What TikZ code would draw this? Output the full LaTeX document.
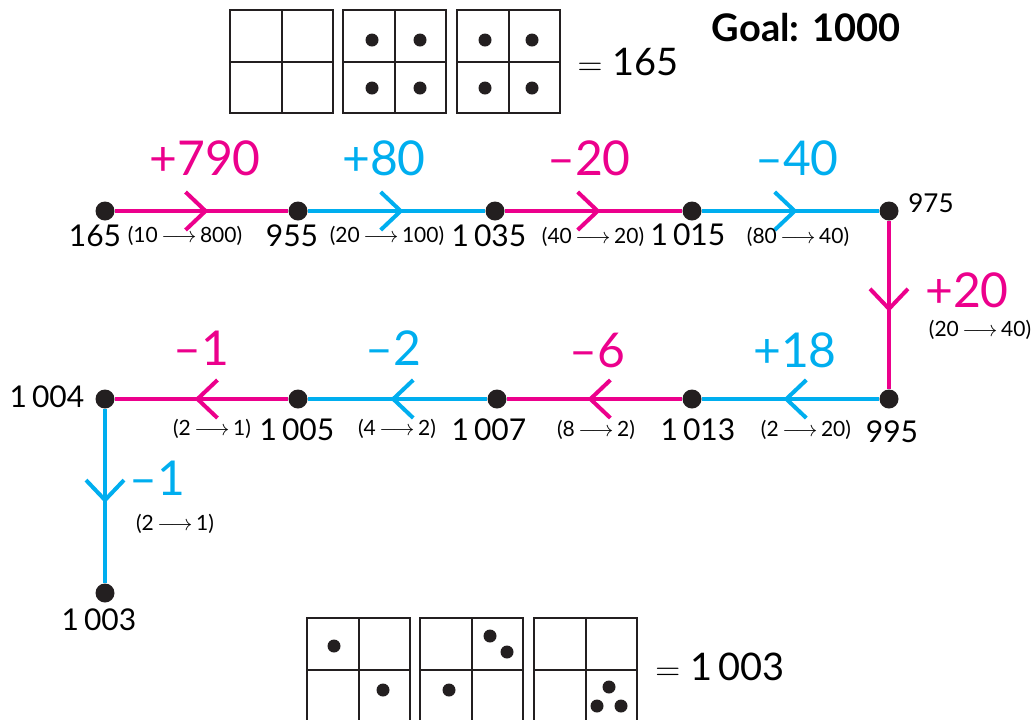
\documentclass[tikz,border=0pt]{standalone}
\usepackage{fontspec}
\setmainfont{Lato}
\usepackage{tikz}
\usetikzlibrary{arrows.meta, decorations.markings}
\definecolor{hotpink}{RGB}{236,0,140}
\definecolor{skyblue}{RGB}{0,174,239}
\definecolor{inkdark}{RGB}{35,31,32}

\begin{document}
\begin{tikzpicture}[x=0.5pt, y=-0.5pt,
    dot/.style={circle, fill=inkdark, inner sep=0pt, minimum size=9.5pt},
    num/.style={font=\fontsize{15}{17}\selectfont, inner sep=0pt},
    jump/.style={font=\fontsize{24}{26}\selectfont, inner sep=0pt, text depth=0pt},
    swap/.style={font=\fontsize{10.5}{12}\selectfont, inner sep=0pt},
    hop/.style={line width=2pt, postaction={decorate},
      decoration={markings, mark=at position 0.54 with
        {\arrow{Straight Barb[length=10pt, width=19pt]}}}},
    sq/.style={line width=1pt, inkdark},
    counter/.style={fill=inkdark, circle, inner sep=0pt, minimum size=6.5pt}]
  \useasboundingbox (0,0) rectangle (1034,719);
  % place value charts
  \foreach \x in {230,343,457} {
    \draw[sq] (\x,10) rectangle ++(103,103);
    \draw[sq] (\x+51.5,10) -- ++(0,103);
    \draw[sq] (\x,61.5) -- ++(103,0);
  }
  \foreach \x/\y in {372/40, 420/40, 372/88, 420/88, 485/40, 532/40, 485/88, 532/88}
    \node[counter] at (\x,\y) {};
  \node[font=\fontsize{19}{21}\selectfont] (top) at (628,62) {$=$ 165};
  \node[font=\fontsize{19}{21}\selectfont\bfseries] (goal) at (806,28) {Goal: 1000};

  \foreach \x in {307,420,534} {
    \draw[sq] (\x,618) rectangle ++(103,104);
    \draw[sq] (\x+51.5,618) -- ++(0,104);
    \draw[sq] (\x,670) -- ++(103,0);
  }
  \foreach \x/\y in {334/646, 383/690, 490/636, 507/652, 449/690, 609/687, 597/706, 621/706}
    \node[counter] at (\x,\y) {};
  \node[font=\fontsize{19}{21}\selectfont] (bottom) at (720,667) {$=$ 1\,003};

  % stops on the track
  \node[dot] (a) at (105,211) {};
  \node[dot] (b) at (298,211) {};
  \node[dot] (c) at (495,211) {};
  \node[dot] (d) at (692,211) {};
  \node[dot] (e) at (889,211) {};
  \node[dot] (f) at (889,399) {};
  \node[dot] (g) at (692,399) {};
  \node[dot] (h) at (497,399) {};
  \node[dot] (i) at (298,399) {};
  \node[dot] (j) at (105,399) {};
  \node[dot] (k) at (105,593) {};

  \draw[hotpink, hop] (a) -- (b);
  \draw[skyblue, hop] (b) -- (c);
  \draw[hotpink, hop] (c) -- (d);
  \draw[skyblue, hop] (d) -- (e);
  \draw[hotpink, hop] (e) -- (f);
  \draw[skyblue, hop] (f) -- (g);
  \draw[hotpink, hop] (g) -- (h);
  \draw[skyblue, hop] (h) -- (i);
  \draw[hotpink, hop] (i) -- (j);
  \draw[skyblue, hop] (j) -- (k);

  % values
  \node[num] (va) at (95,236) {165};
  \node[num] (vb) at (292,236) {955};
  \node[num] (vc) at (489,236) {1\,035};
  \node[num] (vd) at (688,235) {1\,015};
  \node[num, font=\fontsize{13}{15}\selectfont] (ve) at (931,203) {975};
  \node[num] (vf) at (892,432) {995};
  \node[num] (vg) at (698,430) {1\,013};
  \node[num] (vh) at (489,430) {1\,007};
  \node[num] (vi) at (297,430) {1\,005};
  \node[num] (vj) at (47,397) {1\,004};
  \node[num] (vk) at (99,620) {1\,003};

  % jumps
  \node[jump, hotpink] (ja) at (205,158) {+790};
  \node[jump, skyblue] (jb) at (384,158) {+80};
  \node[jump, hotpink] (jc) at (589,158) {–20};
  \node[jump, skyblue] (jd) at (797,158) {–40};
  \node[jump, hotpink] (je) at (967,290) {+20};
  \node[jump, skyblue] (jf) at (795,350) {+18};
  \node[jump, hotpink] (jg) at (597,350) {–6};
  \node[jump, skyblue] (jh) at (393,348) {–2};
  \node[jump, hotpink] (ji) at (201,348) {–1};
  \node[jump, skyblue] (jj) at (157,478) {–1};

  % digit swaps
  \node[swap] (sa) at (185,236) {(10\,$\longrightarrow$\,800)};
  \node[swap] (sb) at (387,236) {(20\,$\longrightarrow$\,100)};
  \node[swap] (sc) at (593,237) {(40\,$\longrightarrow$\,20)};
  \node[swap] (sd) at (798,237) {(80\,$\longrightarrow$\,40)};
  \node[swap] (se) at (980,330) {(20\,$\longrightarrow$\,40)};
  \node[swap] (sf) at (806,430) {(2\,$\longrightarrow$\,20)};
  \node[swap] (sg) at (596,430) {(8\,$\longrightarrow$\,2)};
  \node[swap] (sh) at (397,429) {(4\,$\longrightarrow$\,2)};
  \node[swap] (si) at (212,429) {(2\,$\longrightarrow$\,1)};
  \node[swap] (sj) at (175,524) {(2\,$\longrightarrow$\,1)};
\end{tikzpicture}
\end{document}
